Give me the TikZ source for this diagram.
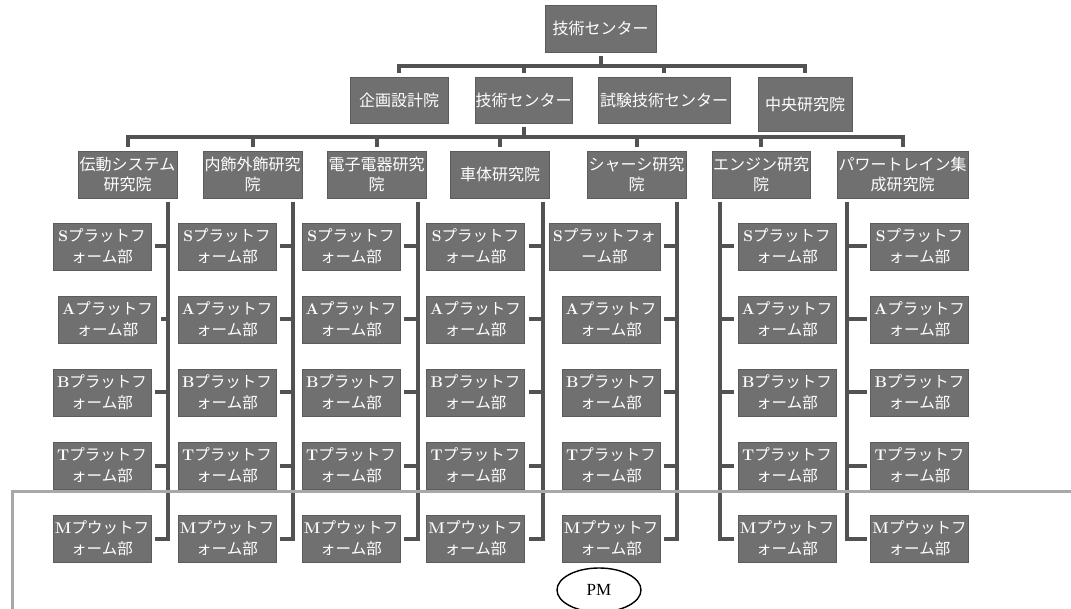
\documentclass[tikz,border=0pt]{standalone}
\usepackage{fontspec}
\usetikzlibrary{shapes.geometric}
\newfontfamily\jp{Noto Sans CJK JP}
\newfontfamily\tms{Liberation Serif}
\definecolor{boxfill}{RGB}{112,112,112}
\definecolor{boxline}{RGB}{92,92,92}
\definecolor{connc}{RGB}{82,82,82}
\definecolor{pmgray}{RGB}{168,168,168}
\newcommand\lt[1]{{\rmfamily\bfseries #1}}
\begin{document}
\begin{tikzpicture}[x=1pt,y=-1pt,
  box/.style={rectangle, fill=boxfill, draw=boxline, line width=0.8pt, text=white,
    font=\jp\fontsize{16}{20}\selectfont, align=center, inner sep=0pt, outer sep=4pt,
    minimum width=98pt, minimum height=47pt},
  cbox/.style={box, font=\jp\fontsize{15.5}{21}\selectfont},
  conn/.style={draw=connc, line width=4pt, line join=miter},
  pmline/.style={draw=pmgray, line width=3pt}]
\useasboundingbox (0,0) rectangle (1071,609);
% top
\node[box, minimum width=111pt] (T) at (600.5,28.5) {技術センター};
% second level
\node[box, minimum height=46pt] (L1) at (399,100) {企画設計院};
\node[box, minimum width=97pt, minimum height=46pt] (L2) at (523.5,100) {技術センター};
\node[box, minimum width=132pt, minimum height=46pt] (L3) at (664,100) {試験技術センター};
\node[box, minimum width=94pt, minimum height=54pt] (L4) at (805,104) {中央研究院};
\coordinate (bar1) at (600.5,66);
\foreach \i in {1,...,4} \draw[conn] (T.south) -- (bar1) -| (L\i.north);
% third level
\node[box, minimum width=99pt] (G1) at (127.5,174.5) {伝動システム\\研究院};
\node[box, minimum width=99pt] (G2) at (252.5,174.5) {内飾外飾研究\\院};
\node[box, minimum width=99pt] (G3) at (376.5,174.5) {電子電器研究\\院};
\node[box, minimum width=99pt] (G4) at (500,174.5) {車体研究院};
\node[box, minimum width=99pt] (G5) at (636.5,174.5) {シャーシ研究\\院};
\node[box] (G6) at (761,174.5) {エンジン研究\\院};
\node[box, minimum width=131pt] (G7) at (902.5,174.5) {パワートレイン集\\成研究院};
\coordinate (bar2) at (523.5,137);
\foreach \i in {1,...,7} \draw[conn] (L2.south) -- (bar2) -| (G\i.north);
% children
\foreach \g/\x in {1/102,2/227,3/351,4/475.5,5/611,6/787,7/919.5}{
  \ifnum\g=1
    \node[cbox] (A\g) at (107.5,319.5) {\lt{A}プラットフ\\ォーム部};
  \else
    \node[cbox] (A\g) at (\x,319.5) {\lt{A}プラットフ\\ォーム部};
  \fi
  \ifnum\g=5
    \node[cbox, minimum width=111pt] (S\g) at (604.5,246.5) {\lt{S}プラットフォ\\ーム部};
  \else
    \node[cbox] (S\g) at (\x,246.5) {\lt{S}プラットフ\\ォーム部};
  \fi
  \node[cbox] (B\g) at (\x,392.5) {\lt{B}プラットフ\\ォーム部};
  \node[cbox] (T\g) at (\x,465.5) {\lt{T}プラットフ\\ォーム部};
  \node[cbox] (M\g) at (\x,538.5) {\lt{M}プウットフ\\ォーム部};
}
\coordinate (b1) at (168,0);
\coordinate (b2) at (293,0);
\coordinate (b3) at (418,0);
\coordinate (b4) at (543,0);
\coordinate (b5) at (677,0);
\coordinate (b6) at (720,0);
\coordinate (b7) at (847,0);
\foreach \g/\s in {1/east,2/east,3/east,4/east,5/east,6/west,7/west}
  \foreach \r in {S,A,B,T,M}
    \draw[conn] (G\g.south -| b\g) |- (\r\g.\s);
% PM region
\coordinate (pmR) at (1071,491);
\coordinate (pmC) at (12,491);
\coordinate (pmB) at (12,612);
\draw[pmline] (pmR) -- (pmC) -- (pmB);
\node[ellipse, draw=black, line width=1.4pt, fill=white, minimum width=84pt, minimum height=44pt,
  inner sep=0pt, font=\tms\fontsize{17}{19}\selectfont] (pm) at (599,590) {PM};
\end{tikzpicture}
\end{document}
